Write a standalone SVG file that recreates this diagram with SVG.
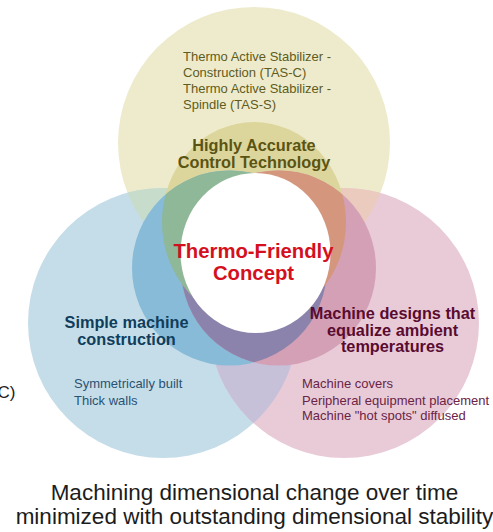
<svg xmlns="http://www.w3.org/2000/svg" width="493" height="532" viewBox="0 0 493 532">
  <style>
    text { font-family: "Liberation Sans", Arial, Helvetica, sans-serif; }
    .head { font-weight: bold; font-size: 16.3px; text-anchor: middle; }
    .note { font-size: 13px; }
    .olive { fill: #5a5414; }
    .olive-note { fill: #605b20; }
    .navy { fill: #0f3d5b; }
    .navy-note { fill: #2a5272; }
    .maroon { fill: #5a0b30; }
    .maroon-note { fill: #6a2446; }
    .concept { font-weight: bold; font-size: 20.3px; text-anchor: middle; fill: #d5101e; }
    .caption { font-size: 22.5px; text-anchor: middle; fill: #1c1c1c; }
  </style>
  <defs>
    <!-- outer circles -->
    <circle id="bigY" cx="254" cy="143" r="136"/>
    <circle id="bigB" cx="163" cy="323" r="135"/>
    <circle id="bigP" cx="344" cy="323" r="135"/>
    <!-- inner ring circles -->
    <ellipse id="medT" cx="254" cy="222" rx="92" ry="100"/>
    <circle id="medL" cx="229.5" cy="268" r="97.5"/>
    <circle id="medR" cx="278.5" cy="268" r="97.5"/>
    <clipPath id="clipBigY"><use href="#bigY"/></clipPath>
    <clipPath id="clipBigB"><use href="#bigB"/></clipPath>
    <clipPath id="clipMedT"><use href="#medT"/></clipPath>
    <clipPath id="clipMedL"><use href="#medL"/></clipPath>
    <clipPath id="clipLeftHalf"><rect x="0" y="0" width="254.5" height="532"/></clipPath>
  </defs>

  <!-- outer Venn circles and their overlaps -->
  <g id="outer-circles">
    <use href="#bigY" fill="#eeebcd"/>
    <use href="#bigB" fill="#c5dde9"/>
    <use href="#bigP" fill="#e9cbd8"/>
    <use href="#bigB" fill="#c8dccb" clip-path="url(#clipBigY)"/>
    <use href="#bigP" fill="#eacbbd" clip-path="url(#clipBigY)"/>
    <use href="#bigP" fill="#c6c1d9" clip-path="url(#clipBigB)"/>
  </g>

  <!-- inner ring: single fills, then the lower overlap, then the upper overlaps on top -->
  <g id="inner-ring">
    <use href="#medT" fill="#ddd69c"/>
    <use href="#medL" fill="#88bbd8"/>
    <use href="#medR" fill="#d4a0b6"/>
    <use href="#medR" fill="#8b83ac" clip-path="url(#clipMedL)"/>
    <use href="#medR" fill="#d4967d" clip-path="url(#clipMedT)"/>
    <g clip-path="url(#clipLeftHalf)">
      <use href="#medL" fill="#8eb897" clip-path="url(#clipMedT)"/>
    </g>
  </g>

  <g id="control-technology">
    <text class="note olive-note" x="183" y="61">Thermo Active Stabilizer -</text>
    <text class="note olive-note" x="183" y="77">Construction (TAS-C)</text>
    <text class="note olive-note" x="183" y="92.5">Thermo Active Stabilizer -</text>
    <text class="note olive-note" x="183" y="108.5">Spindle (TAS-S)</text>
    <text class="head olive" x="254" y="151">Highly Accurate</text>
    <text class="head olive" x="254" y="168">Control Technology</text>
  </g>

  <g id="machine-construction">
    <text class="head navy" x="126.5" y="327.5">Simple machine</text>
    <text class="head navy" x="126.5" y="344.5">construction</text>
    <text class="note navy-note" x="74" y="388">Symmetrically built</text>
    <text class="note navy-note" x="74" y="404.5">Thick walls</text>
  </g>

  <g id="ambient-temperatures">
    <text class="head maroon" x="392.5" y="319">Machine designs that</text>
    <text class="head maroon" x="392.5" y="335.5">equalize ambient</text>
    <text class="head maroon" x="392.5" y="352">temperatures</text>
    <text class="note maroon-note" x="302" y="388">Machine covers</text>
    <text class="note maroon-note" x="302" y="404.5">Peripheral equipment placement</text>
    <text class="note maroon-note" x="302" y="420">Machine "hot spots" diffused</text>
  </g>

  <g id="thermo-friendly-concept">
    <ellipse cx="255.5" cy="253" rx="75" ry="80" fill="#ffffff"/>
    <text class="concept" x="253.5" y="258">Thermo-Friendly</text>
    <text class="concept" x="253.5" y="279.5">Concept</text>
  </g>

  <g id="side-label">
    <text x="15.5" y="398" font-size="17" text-anchor="end" fill="#222222">C)</text>
  </g>

  <g id="caption">
    <text class="caption" x="254.5" y="500">Machining dimensional change over time</text>
    <text class="caption" x="254.5" y="523.5">minimized with outstanding dimensional stability</text>
  </g>
</svg>
